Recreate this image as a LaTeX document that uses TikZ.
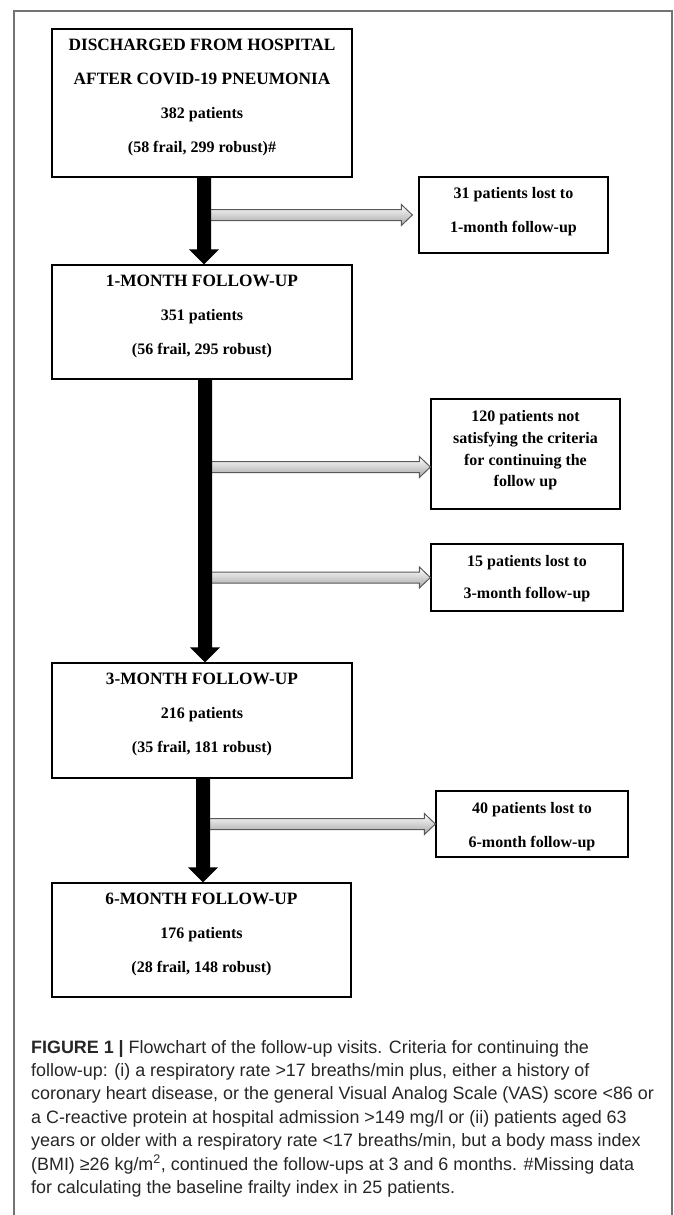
\documentclass[tikz,border=0pt]{standalone}
\usepackage{fontspec}
\setmainfont{Liberation Serif}
\newfontfamily\capfont{Liberation Sans}
\usetikzlibrary{calc}
\tikzset{
  box/.style={draw=black, line width=1.3pt, rectangle, inner sep=0pt},
  boxtext/.style={anchor=north, inner sep=0pt, align=center, font=\bfseries\fontsize{16}{34}\selectfont},
  sidetext/.style={anchor=north, inner sep=0pt, align=center, font=\bfseries\fontsize{16}{34}\selectfont},
  garrow/.style={draw=black!65, line width=1pt, top color=white, bottom color=black!35, line join=miter},
  frame/.style={draw=black!55, line width=1.5pt}
}
\newcommand\hd[1]{{\fontsize{17.3}{34}\selectfont #1}}
\newcommand\fatarrow[2]{%
  \fill[black] ($(#1)+(-7,0)$) -- ($(#1)+(7,0)$) -- ($(#2)+(7,-15)$) -- ($(#2)+(15,-15)$) -- (#2) -- ($(#2)+(-15,-15)$) -- ($(#2)+(-7,-15)$) -- cycle;}
\newcommand\hollowarrow[2]{%
  \path[garrow] ($(#1)+(0,-5.5)$) -- ($(#2)+(-11,-5.5)$) -- ($(#2)+(-11,-10.5)$) -- (#2) -- ($(#2)+(-11,10.5)$) -- ($(#2)+(-11,5.5)$) -- ($(#1)+(0,5.5)$) -- cycle;}
\begin{document}
\begin{tikzpicture}[x=1pt,y=-1pt]
\useasboundingbox (0,0) rectangle (673,1215);
\fill[white] (0,0) rectangle (673,1215);
\draw[frame] (14,1217) -- (14,11) -- (672,11) -- (672,1217);

% main boxes
\node[box, minimum width=300pt, minimum height=148pt] (b0) at (202,103) {};
\node[box, minimum width=300pt, minimum height=114pt] (b1) at (202,322) {};
\node[box, minimum width=300pt, minimum height=115pt] (b3) at (202,720.5) {};
\node[box, minimum width=299pt, minimum height=114pt] (b6) at (201.5,940) {};
% side boxes
\node[box, minimum width=189pt, minimum height=76pt] (s1) at (513.5,215) {};
\node[box, minimum width=189pt, minimum height=110pt] (s2) at (525.5,454) {};
\node[box, minimum width=192pt, minimum height=67pt] (s3) at (527,577.5) {};
\node[box, minimum width=192pt, minimum height=66pt] (s4) at (532,824) {};

% texts
\node[boxtext] (t0) at ($(b0.north)+(0,10.5)$) {\hd{DISCHARGED FROM HOSPITAL}\\\hd{AFTER COVID-19 PNEUMONIA}\\382 patients\\(58 frail, 299 robust)\#};
\node[boxtext] (t1) at ($(b1.north)+(0,10.5)$) {\hd{1-MONTH FOLLOW-UP}\\351 patients\\(56 frail, 295 robust)};
\node[boxtext] (t3) at ($(b3.north)+(0,10.5)$) {\hd{3-MONTH FOLLOW-UP}\\216 patients\\(35 frail, 181 robust)};
\node[boxtext] (t6) at ($(b6.north)+(0,10.5)$) {\hd{6-MONTH FOLLOW-UP}\\176 patients\\(28 frail, 148 robust)};
\node[sidetext] (u1) at ($(s1.north)+(0,11)$) {31 patients lost to\\1-month follow-up};
\node[sidetext, font=\bfseries\fontsize{16}{21.7}\selectfont] (u2) at ($(s2.north)+(0,12)$) {120 patients not\\satisfying the criteria\\for continuing the\\follow up};
\node[sidetext, font=\bfseries\fontsize{16}{32}\selectfont] (u3) at ($(s3.north)+(0,12)$) {15 patients lost to\\3-month follow-up};
\node[sidetext] (u4) at ($(s4.north)+(0,12)$) {40 patients lost to\\6-month follow-up};

% black arrow end points
\coordinate (a1s) at ($(b0.south)+(2,0)$);
\coordinate (a1e) at ($(b1.north)+(2,0)$);
\coordinate (a2s) at ($(b1.south)+(3,0)$);
\coordinate (a2e) at ($(b3.north)+(3,0)$);
\coordinate (a3s) at ($(b3.south)+(1,0)$);
\coordinate (a3e) at ($(b6.north)+(1.5,0)$);

% gray arrows
\coordinate (g1e) at ($(s1.west)+(-6,0)$);
\coordinate (g1s) at ($(a1s |- g1e)+(6,0)$);
\coordinate (g2e) at ($(s2.west)+(0,13)$);
\coordinate (g2s) at ($(a2s |- g2e)+(6,0)$);
\coordinate (g3e) at (s3.west);
\coordinate (g3s) at ($(a2s |- g3e)+(6,0)$);
\coordinate (g4e) at (s4.west);
\coordinate (g4s) at ($(a3s |- g4e)+(6,0)$);
\hollowarrow{g1s}{g1e}
\hollowarrow{g2s}{g2e}
\hollowarrow{g3s}{g3e}
\hollowarrow{g4s}{g4e}

\fatarrow{a1s}{a1e}
\fatarrow{a2s}{a2e}
\fatarrow{a3s}{a3e}

% caption
\node[anchor=north west, inner sep=0pt, align=left, text=black!85,
      font=\capfont\fontsize{17.9}{23.4}\selectfont] (cap) at (31,1040)
{\textbf{FIGURE 1 |} Flowchart of the follow-up visits. Criteria for continuing the\\
follow-up: (i) a respiratory rate >17 breaths/min plus, either a history of\\
coronary heart disease, or the general Visual Analog Scale (VAS) score <86 or\\
a C-reactive protein at hospital admission >149 mg/l or (ii) patients aged 63\\
years or older with a respiratory rate <17 breaths/min, but a body mass index\\
(BMI) ≥26 kg/m\textsuperscript{2}, continued the follow-ups at 3 and 6 months. \#Missing data\\
for calculating the baseline frailty index in 25 patients.};
\end{tikzpicture}
\end{document}
